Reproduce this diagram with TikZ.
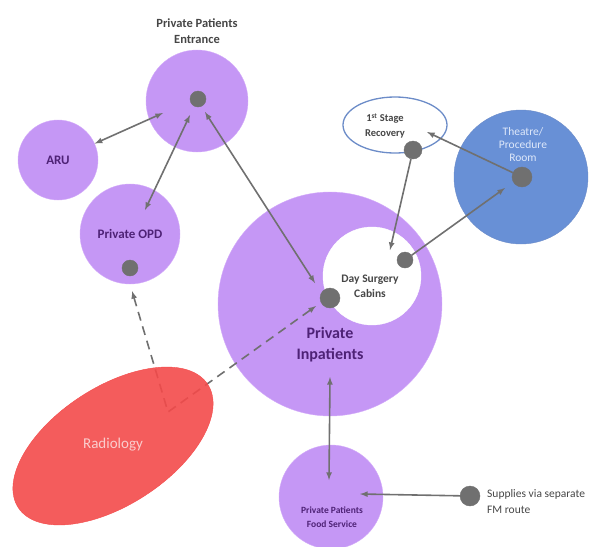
\documentclass[tikz,border=0pt]{standalone}
\usepackage{fontspec}
\setmainfont{Carlito}
\usepackage{tikz}
\usetikzlibrary{arrows,shapes.geometric}
\definecolor{lilac}{RGB}{197,151,245}
\definecolor{lilacrim}{RGB}{212,172,250}
\definecolor{plum}{RGB}{78,34,118}
\definecolor{ash}{RGB}{112,112,112}
\definecolor{inkgrey}{RGB}{70,70,70}
\definecolor{steel}{RGB}{104,144,214}
\definecolor{steelrim}{RGB}{108,140,200}
\definecolor{scarlet}{RGB}{243,74,74}
\definecolor{mist}{RGB}{222,232,250}
\definecolor{blush}{RGB}{250,205,205}
\newcommand{\fsz}[2]{\fontsize{#1}{#2}\selectfont}
\tikzset{
  zone/.style = {circle, fill=lilac, draw=lilacrim, inner sep=0pt,
    align=center, text=plum, font=\bfseries\fsz{13}{16}},% zone violette
  zone_w/.style = {circle, fill=white, draw=white, inner sep=0pt},% zone blanche
  zone_b/.style = {circle, fill=steel, draw=steelrim, inner sep=0pt},% zone bleue
  hub/.style = {circle, fill=ash, draw=ash, inner sep=0pt},% point de passage
  lbl/.style = {align=center, inner sep=0pt, text=inkgrey,
    font=\bfseries\fsz{12}{15}},
  link/.style = {draw=ash, line width=1.6pt, >=latex},
  route/.style = {link, dashed, dash pattern=on 9pt off 6pt}
}

\begin{document}
\begin{tikzpicture}[x=1pt, y=-1pt]
	\useasboundingbox (0,0) rectangle (606,547);
	% les zones
	\node [zone, minimum size=102] (entr) at (197,101) {};
	\node [zone, minimum size=80] (aru) at (58,160) {ARU};
	\node [zone, minimum size=100] (opd) at (130,234) {Private OPD};
	\node [zone, minimum size=224] (inp) at (330,304) {};
	\node [zone_w, minimum size=98] (day) at (372,276) {};
	\node [zone_b, minimum size=134] (theat) at (521,177) {};
	\node [ellipse, fill=white, draw=steelrim, line width=1.3pt,
		minimum width=104, minimum height=56] (rec) at (395,125) {};
	\node [zone, minimum size=104] (food) at (331,497) {};
	% les textes
	\node [lbl, font=\bfseries\fsz{12.5}{16}] (entr_t) at (197,31) {Private Patients\\Entrance};
	\node [lbl, text=plum, font=\bfseries\fsz{16}{21}] (inp_t) at (330,345) {Private\\Inpatients};
	\node [lbl, font=\bfseries\fsz{11.5}{15}] (day_t) at (370,286) {Day Surgery\\Cabins};
	\node [lbl, text=mist, font=\fsz{11.5}{13}] (theat_t) at (523,145) {Theatre/\\Procedure\\Room};
	\node [lbl, font=\bfseries\fsz{10.5}{15}] (rec_t) at (385,126) {1\textsuperscript{st} Stage\\Recovery};
	\node [lbl, text=plum, font=\bfseries\fsz{9.5}{13.5}] (food_t) at (332,517) {Private Patients\\Food Service};
	\node [lbl, anchor=west, align=left, font=\fsz{11.5}{16}] (sup_t) at (487,502) {Supplies via separate\\FM route};
	% les points
	\node [hub, minimum size=16] (entr_d) at (198,99) {};
	\node [hub, minimum size=16] (opd_d) at (130,268) {};
	\node [hub, minimum size=20] (inp_d) at (330,298) {};
	\node [hub, minimum size=16] (day_d) at (405,260) {};
	\node [hub, minimum size=18] (rec_d) at (413,150) {};
	\node [hub, minimum size=20] (theat_d) at (522,177) {};
	\node [hub, minimum size=20] (sup_d) at (470,496) {};
	% bouts de fleches
	\coordinate (entr_w) at (163,113);
	\coordinate (entr_s) at (190,115);
	\coordinate (entr_e) at (205,112);
	\coordinate (opd_n) at (145,210);
	\coordinate (opd_s) at (132,291);
	\coordinate (inp_nw) at (315,283);
	\coordinate (inp_sw) at (316,306);
	\coordinate (inp_s) at (330,377);
	\coordinate (food_n) at (329,480);
	\coordinate (food_e) at (360,494);
	\coordinate (rec_e) at (427,132);
	\coordinate (day_n) at (390,250);
	\coordinate (theat_w) at (505,188);
	\coordinate (rad_v) at (168,412);
	% les fleches
	\draw [link, latex-latex] (aru) -- (entr_w);
	\draw [link, latex-latex] (entr_s) -- (opd_n);
	\draw [link, latex-latex] (entr_e) -- (inp_nw);
	\draw [link, -latex] (theat_d) -- (rec_e);
	\draw [link, -latex] (rec_d) -- (day_n);
	\draw [link, -latex] (day_d) -- (theat_w);
	\draw [link, latex-latex] (inp_s) -- (food_n);
	\draw [link, -latex] (sup_d) -- (food_e);
	\draw [route, latex-latex] (opd_s) -- (rad_v) -- (inp_sw);
	% radiologie
	\node [ellipse, fill=scarlet, fill opacity=0.9, draw=scarlet, rotate=33,
		minimum width=226, minimum height=118] (rad) at (113,446) {};
	\node [lbl, text=blush, font=\fsz{15}{18}] (rad_t) at (113,445) {Radiology};
\end{tikzpicture}
\end{document}
